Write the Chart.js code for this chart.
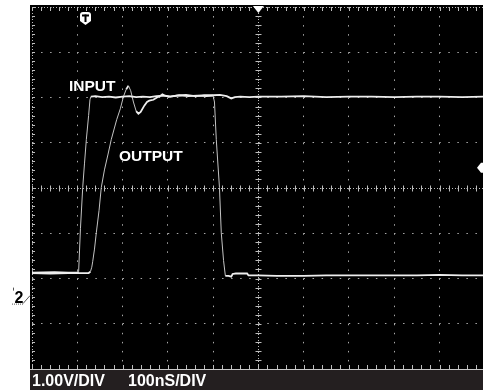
<!DOCTYPE html>
<html>
<head>
<meta charset="utf-8">
<script src="https://cdn.jsdelivr.net/npm/chart.js@4"></script>
<style>
  html, body { margin: 0; padding: 0; background: #fff; overflow: hidden; }
  #wrap { position: relative; width: 483px; height: 390px; }
  canvas { display: block; }
</style>
</head>
<body>
<div id="wrap"><canvas id="scope" width="483" height="390"></canvas></div>
<script>
// Time in ns (0 = trigger point, centre of screen), voltage in V relative to the CH2 ground marker
const inputTime = [-500, -450, -420, -400, -397, -393, -388, -384, -380, -375, -372, -370, -360, -345, -330, -315, -300, -285, -270, -255, -240, -225, -210, -195, -175, -155, -135, -115, -100, -97, -93, -86, -82, -77, -73, -66, -60, -57, -50, -25, -22, 0, 40, 100, 150, 200, 250, 300, 350, 400, 450, 496];
const inputVolts = [0.53, 0.54, 0.53, 0.53, 0.55, 1.5, 2.41, 2.95, 3.47, 4.0, 4.35, 4.42, 4.43, 4.41, 4.42, 4.40, 4.42, 4.43, 4.41, 4.42, 4.41, 4.43, 4.44, 4.42, 4.45, 4.43, 4.44, 4.43, 4.44, 4.3, 3.47, 2.41, 1.41, 0.8, 0.46, 0.46, 0.44, 0.5, 0.51, 0.51, 0.47, 0.47, 0.46, 0.46, 0.47, 0.47, 0.47, 0.47, 0.47, 0.48, 0.47, 0.47];

const outputTime = [-500, -460, -420, -390, -375, -371, -368, -366, -362, -358, -352, -347, -340, -332, -325, -313, -305, -298, -292, -287, -282, -276, -270, -265, -260, -252, -246, -241, -232, -224, -216, -212, -206, -195, -180, -160, -140, -120, -100, -85, -70, -60, -52, -40, -20, 0, 50, 100, 150, 200, 250, 300, 350, 400, 450, 496];
const outputVolts = [0.52, 0.51, 0.52, 0.52, 0.52, 0.55, 0.65, 0.77, 1.05, 1.41, 1.9, 2.41, 2.8, 3.15, 3.47, 3.91, 4.15, 4.42, 4.58, 4.66, 4.55, 4.3, 4.1, 4.04, 4.08, 4.22, 4.3, 4.33, 4.35, 4.4, 4.44, 4.47, 4.44, 4.42, 4.44, 4.46, 4.43, 4.45, 4.45, 4.46, 4.43, 4.38, 4.41, 4.42, 4.41, 4.42, 4.42, 4.43, 4.41, 4.42, 4.42, 4.41, 4.42, 4.42, 4.41, 4.42];

// Graticule: 100 ns per horizontal division, 1 V per vertical division
const timeTicks = [-500, -400, -300, -200, -100, 0, 100, 200, 300, 400];
const voltTicks = [-1.6, -0.6, 0.4, 1.4, 2.4, 3.4, 4.4, 5.4, 6.4];
const traceLabels = ['INPUT', 'OUTPUT'];
const scaleLabels = ['1.00V/DIV', '100nS/DIV'];
const channelLabel = '2';

const toPoints = (ts, vs) => ts.map((t, i) => ({ x: t, y: vs[i] }));

// fast edges are drawn thinner and dimmer, like a scope's phosphor trace
const steep = c => Math.abs(c.p1.y - c.p0.y) > 2 * Math.abs(c.p1.x - c.p0.x);
const traceSegment = {
  borderWidth: c => steep(c) ? 1 : 1.8,
  borderColor: c => steep(c) ? '#c4c4c4' : '#eeeeee'
};

const screenPlugin = {
  id: 'screen',
  beforeDraw(chart) {
    const ctx = chart.ctx;
    ctx.save();
    ctx.fillStyle = '#000';
    ctx.fillRect(30, 5, 453, 365);
    ctx.fillStyle = '#241f20';
    ctx.fillRect(30, 370, 453, 20);
    ctx.restore();
  },
  beforeDatasetsDraw(chart) {
    const { ctx, chartArea: a, scales: { x, y } } = chart;
    const dx = (x.getPixelForValue(100) - x.getPixelForValue(0)) / 5;
    const dy = (y.getPixelForValue(0) - y.getPixelForValue(1)) / 5;
    const cx = Math.round(x.getPixelForValue(0)) + 0.5;
    const cy = Math.round(y.getPixelForValue(2.4)) + 0.5;
    ctx.save();
    ctx.strokeStyle = '#bdbdbd';
    ctx.lineWidth = 1;
    // centre cross, finely dotted
    ctx.setLineDash([1, 2]);
    ctx.beginPath();
    ctx.moveTo(a.left, cy); ctx.lineTo(a.right, cy);
    ctx.moveTo(cx, a.top); ctx.lineTo(cx, a.bottom);
    ctx.stroke();
    ctx.setLineDash([]);
    ctx.beginPath();
    // ticks on the centre cross
    for (let px = a.left; px <= a.right + 1; px += dx) {
      const p = Math.round(px) + 0.5;
      ctx.moveTo(p, cy - 3); ctx.lineTo(p, cy + 3);
      // top and bottom edge ticks
      ctx.moveTo(p, a.top); ctx.lineTo(p, a.top + 4);
      ctx.moveTo(p, a.bottom); ctx.lineTo(p, a.bottom - 4);
    }
    for (let py = a.top; py <= a.bottom + 1; py += dy) {
      const p = Math.round(py) + 0.5;
      ctx.moveTo(cx - 3, p); ctx.lineTo(cx + 3, p);
      ctx.moveTo(a.left, p); ctx.lineTo(a.left + 3, p);
    }
    ctx.stroke();
    // top and left edges dotted, bottom edge solid
    ctx.setLineDash([1, 2]);
    ctx.beginPath();
    ctx.moveTo(a.left, a.top + 0.5); ctx.lineTo(a.right, a.top + 0.5);
    ctx.moveTo(a.left + 0.5, a.top); ctx.lineTo(a.left + 0.5, a.bottom);
    ctx.stroke();
    ctx.setLineDash([]);
    ctx.strokeStyle = '#c8c8c8';
    ctx.beginPath();
    ctx.moveTo(30, a.bottom + 0.5); ctx.lineTo(483, a.bottom + 0.5);
    ctx.stroke();
    ctx.restore();
  },
  afterDraw(chart) {
    const { ctx, scales: { x, y } } = chart;
    ctx.save();
    // trace names
    ctx.fillStyle = '#fff';
    ctx.font = 'bold 15.5px "Liberation Sans", Arial, sans-serif';
    ctx.textBaseline = 'alphabetic';
    ctx.fillText(traceLabels[0], 69, 91);
    ctx.fillText(traceLabels[1], 119, 161);
    // scale readout in the status bar
    ctx.font = 'bold 16px "Liberation Sans", Arial, sans-serif';
    ctx.fillText(scaleLabels[0], 32, 386);
    ctx.fillText(scaleLabels[1], 128, 386);

    // trigger position arrow at top centre
    const tx = x.getPixelForValue(0);
    ctx.beginPath();
    ctx.moveTo(tx - 5.5, 6); ctx.lineTo(tx + 5.5, 6); ctx.lineTo(tx, 13); ctx.closePath();
    ctx.fill();

    // "T" trigger badge
    ctx.beginPath();
    ctx.moveTo(80, 15); ctx.quadraticCurveTo(80, 12, 83, 12);
    ctx.lineTo(88, 12); ctx.quadraticCurveTo(91, 12, 91, 15);
    ctx.lineTo(91, 21); ctx.lineTo(85.5, 25); ctx.lineTo(80, 21); ctx.closePath();
    ctx.fill();
    ctx.fillStyle = '#000';
    ctx.fillRect(82, 14.5, 7, 2);
    ctx.fillRect(84.5, 14.5, 2, 7.5);

    // trigger level arrow on the right edge
    const ly = y.getPixelForValue(2.85);
    ctx.fillStyle = '#fff';
    ctx.beginPath();
    ctx.moveTo(477, ly); ctx.lineTo(481, ly - 5); ctx.lineTo(483, ly - 5);
    ctx.lineTo(483, ly + 5); ctx.lineTo(481, ly + 5); ctx.closePath();
    ctx.fill();

    // channel 2 ground marker
    const gy = y.getPixelForValue(0);
    ctx.fillStyle = '#000';
    ctx.font = 'bold 16px "Liberation Sans", Arial, sans-serif';
    ctx.textAlign = 'center';
    ctx.fillText(channelLabel, 19, gy + 6);
    ctx.strokeStyle = '#555';
    ctx.lineWidth = 1;
    ctx.setLineDash([1, 1]);
    ctx.beginPath();
    ctx.moveTo(12, gy + 7.5); ctx.lineTo(23, gy + 7.5);
    ctx.stroke();
    ctx.setLineDash([]);
    ctx.beginPath();
    ctx.moveTo(23, gy + 7); ctx.lineTo(30, gy - 1);
    ctx.moveTo(13.5, gy - 9); ctx.lineTo(13.5, gy - 6);
    ctx.stroke();
    ctx.restore();
  }
};

new Chart(document.getElementById('scope'), {
  type: 'line',
  data: {
    datasets: [
      { label: traceLabels[0], data: toPoints(inputTime, inputVolts), borderColor: '#eeeeee',
        borderWidth: 1.8, pointRadius: 0, tension: 0, segment: traceSegment },
      { label: traceLabels[1], data: toPoints(outputTime, outputVolts), borderColor: '#eeeeee',
        borderWidth: 1.8, pointRadius: 0, tension: 0, segment: traceSegment }
    ]
  },
  options: {
    responsive: false,
    animation: false,
    layout: { padding: { left: 32, top: 7, right: 0, bottom: 21 } },
    plugins: { legend: { display: false }, tooltip: { enabled: false } },
    scales: {
      x: {
        type: 'linear', min: -500, max: 496,
        afterBuildTicks: s => { s.ticks = timeTicks.map(v => ({ value: v })); },
        ticks: { display: false },
        grid: { color: '#a8a8a8', lineWidth: 1, drawTicks: false },
        border: { display: false, dash: [1.5, 7.55] }
      },
      y: {
        type: 'linear', min: -1.6, max: 6.4,
        afterBuildTicks: s => { s.ticks = voltTicks.map(v => ({ value: v })); },
        ticks: { display: false },
        grid: { color: '#a8a8a8', lineWidth: 1, drawTicks: false },
        border: { display: false, dash: [1.5, 7.55] }
      }
    }
  },
  plugins: [screenPlugin]
});
</script>
</body>
</html>
